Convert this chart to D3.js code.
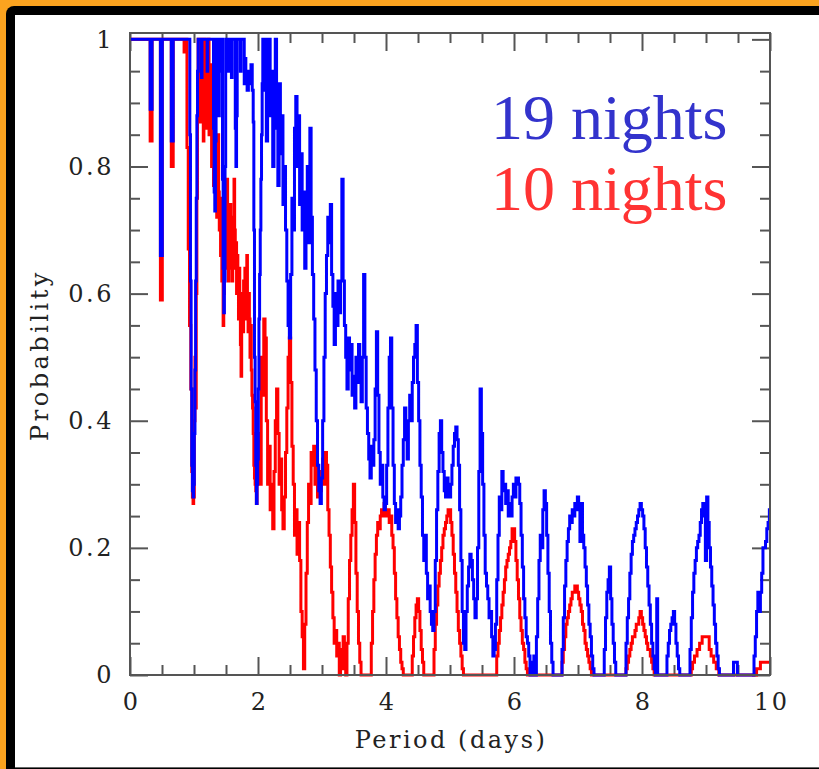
<!DOCTYPE html>
<html>
<head>
<meta charset="utf-8">
<script src="https://cdn.jsdelivr.net/npm/d3@7"></script>
<style>
  body { margin: 0; background: #fba31f; }
  svg { display: block; }
</style>
</head>
<body>
<svg id="chart" width="819" height="769"></svg>
<script>
// probability vs period: [period (days), probability]
var nights19 = [
  [0.00,1],[0.31,1],[0.32,0.89],[0.34,0.89],[0.35,1],
  [0.47,1],[0.48,0.66],[0.50,0.66],[0.51,1],
  [0.64,1],[0.65,0.84],[0.67,0.84],[0.68,1],
  [0.93,1],[0.94,0.85],[0.95,0.62],[0.96,0.45],[0.97,0.33],[0.98,0.29],[0.99,0.28],[1.00,0.30],
  [1.01,0.38],[1.02,0.48],[1.03,0.62],[1.04,0.75],[1.05,0.88],[1.06,0.95],[1.07,1],
  [1.11,1],[1.12,0.94],[1.13,1],[1.20,1],[1.21,0.95],[1.22,1],
  [1.30,1],[1.31,0.86],[1.32,0.76],[1.33,0.73],[1.34,0.84],[1.35,1],
  [1.38,1],[1.39,0.88],[1.40,0.95],[1.41,1],
  [1.44,1],[1.45,0.78],[1.46,0.64],[1.47,0.57],[1.48,0.62],[1.49,0.80],[1.50,1],
  [1.53,1],[1.54,0.95],[1.55,1],[1.58,1],[1.59,0.94],[1.60,1],
  [1.64,1],[1.65,0.86],[1.66,0.80],[1.67,0.88],[1.68,1],
  [1.72,1],[1.73,0.95],[1.74,1],[1.78,1],[1.79,0.93],[1.80,0.97],[1.82,0.94],[1.84,0.92],
  [1.86,0.95],[1.88,0.93],[1.90,0.96],[1.92,0.92],[1.93,0.87],[1.94,0.70],[1.95,0.50],
  [1.96,0.43],[1.97,0.33],[1.98,0.27],[1.99,0.30],[2.00,0.34],[2.01,0.45],[2.02,0.56],
  [2.03,0.63],[2.04,0.70],[2.05,0.78],[2.06,0.85],[2.07,0.93],[2.08,1],[2.10,0.92],[2.12,1],
  [2.14,0.84],[2.16,0.95],[2.18,1],[2.20,0.88],[2.22,0.95],[2.24,0.80],[2.26,0.90],[2.28,1],
  [2.30,0.86],[2.32,0.77],[2.34,0.93],[2.36,0.82],[2.38,0.88],[2.40,0.74],[2.42,0.80],
  [2.44,0.70],[2.46,0.62],[2.48,0.55],[2.50,0.53],[2.52,0.63],[2.54,0.75],[2.56,0.70],
  [2.58,0.86],[2.60,0.91],[2.62,0.80],[2.64,0.88],[2.66,0.74],[2.68,0.82],[2.70,0.70],
  [2.72,0.76],[2.74,0.64],[2.76,0.72],[2.78,0.80],[2.80,0.68],[2.82,0.86],[2.84,0.72],
  [2.86,0.63],[2.88,0.56],[2.90,0.48],[2.92,0.40],[2.94,0.33],[2.96,0.29],[2.98,0.27],
  [3.00,0.31],[3.02,0.40],[3.04,0.50],[3.06,0.60],[3.08,0.66],[3.10,0.72],[3.12,0.68],
  [3.14,0.74],[3.16,0.63],[3.18,0.58],[3.20,0.52],[3.22,0.60],[3.24,0.55],[3.26,0.62],
  [3.28,0.57],[3.30,0.62],[3.32,0.78],[3.34,0.62],[3.36,0.55],[3.38,0.50],[3.40,0.45],
  [3.42,0.53],[3.44,0.48],[3.46,0.52],[3.48,0.44],[3.50,0.47],[3.52,0.42],[3.54,0.50],
  [3.56,0.46],[3.58,0.52],[3.60,0.47],[3.62,0.43],[3.64,0.50],[3.66,0.63],[3.68,0.50],
  [3.70,0.42],[3.72,0.38],[3.74,0.34],[3.76,0.31],[3.78,0.36],[3.80,0.33],[3.82,0.37],
  [3.84,0.45],[3.86,0.54],[3.88,0.44],[3.90,0.35],[3.92,0.30],[3.94,0.33],[3.96,0.28],
  [3.98,0.26],[4.00,0.27],[4.02,0.33],[4.04,0.42],[4.06,0.50],[4.08,0.53],[4.10,0.42],
  [4.12,0.33],[4.14,0.27],[4.16,0.24],[4.18,0.26],[4.20,0.23],[4.22,0.25],[4.24,0.28],
  [4.26,0.33],[4.28,0.37],[4.30,0.42],[4.32,0.38],[4.34,0.34],[4.36,0.40],[4.38,0.44],
  [4.40,0.40],[4.42,0.46],[4.44,0.50],[4.46,0.52],[4.48,0.55],[4.50,0.46],[4.52,0.40],
  [4.54,0.33],[4.56,0.28],[4.58,0.22],[4.60,0.18],[4.62,0.22],[4.64,0.16],[4.66,0.12],
  [4.68,0.14],[4.70,0.10],[4.72,0.08],[4.74,0.07],[4.76,0.10],[4.78,0.18],[4.80,0.26],
  [4.82,0.32],[4.84,0.38],[4.86,0.40],[4.88,0.35],[4.90,0.32],[4.92,0.29],[4.94,0.28],
  [4.96,0.31],[4.98,0.30],[5.00,0.28],[5.02,0.30],[5.04,0.33],[5.06,0.36],[5.08,0.38],
  [5.10,0.39],[5.12,0.37],[5.14,0.33],[5.16,0.26],[5.18,0.18],[5.20,0.10],[5.22,0.05],
  [5.24,0.04],[5.26,0.10],[5.28,0.14],[5.30,0.17],[5.32,0.19],[5.34,0.18],[5.36,0.15],
  [5.38,0.12],[5.40,0.09],[5.42,0.12],[5.44,0.20],[5.46,0.32],[5.48,0.45],[5.50,0.38],
  [5.52,0.30],[5.54,0.22],[5.56,0.16],[5.58,0.14],[5.60,0.12],[5.62,0.09],[5.64,0.10],
  [5.66,0.06],[5.68,0.03],[5.70,0.04],[5.72,0.08],[5.74,0.15],[5.76,0.22],[5.78,0.28],
  [5.80,0.26],[5.82,0.32],[5.84,0.29],[5.86,0.30],[5.88,0.27],[5.90,0.29],[5.92,0.25],
  [5.94,0.27],[5.96,0.25],[5.98,0.28],[6.00,0.30],[6.02,0.28],[6.04,0.31],[6.06,0.31],
  [6.08,0.30],[6.10,0.27],[6.12,0.22],[6.14,0.17],[6.16,0.12],[6.18,0.09],[6.20,0.06],
  [6.22,0.05],[6.24,0.03],[6.26,0],[6.28,0.02],[6.30,0],[6.32,0.03],[6.34,0],[6.36,0.06],
  [6.38,0.12],[6.40,0.18],[6.42,0.22],[6.44,0.20],[6.46,0.26],[6.48,0.29],[6.50,0.27],
  [6.52,0.22],[6.54,0.16],[6.56,0.10],[6.58,0.05],[6.60,0.02],[6.62,0],[6.74,0],
  [6.76,0.04],[6.78,0.09],[6.80,0.14],[6.82,0.18],[6.84,0.21],[6.86,0.23],[6.88,0.25],
  [6.90,0.24],[6.92,0.26],[6.94,0.25],[6.96,0.27],[6.98,0.26],[7.00,0.28],[7.02,0.27],
  [7.04,0.21],[7.06,0.27],[7.08,0.22],[7.10,0.20],[7.12,0.17],[7.14,0.14],[7.16,0.11],
  [7.18,0.08],[7.20,0.06],[7.22,0.03],[7.24,0.01],[7.26,0],[7.40,0],[7.42,0.04],
  [7.44,0.09],[7.46,0.13],[7.48,0.15],[7.50,0.17],[7.52,0.12],[7.54,0.08],[7.56,0.05],
  [7.58,0.02],[7.60,0],[7.74,0],[7.76,0.05],[7.78,0.09],[7.80,0.12],[7.82,0.16],
  [7.84,0.19],[7.86,0.21],[7.88,0.22],[7.90,0.23],[7.92,0.24],[7.94,0.25],[7.96,0.26],
  [7.98,0.27],[8.00,0.26],[8.02,0.25],[8.04,0.23],[8.06,0.20],[8.08,0.17],[8.10,0.14],
  [8.12,0.11],[8.14,0.08],[8.16,0.05],[8.18,0.03],[8.20,0.01],[8.22,0],[8.24,0.12],
  [8.25,0],[8.38,0],[8.40,0.03],[8.42,0.05],[8.44,0.07],[8.46,0.08],[8.48,0.09],
  [8.50,0.10],[8.52,0.08],[8.54,0.05],[8.56,0.03],[8.58,0.01],[8.60,0],[8.74,0],
  [8.76,0.04],[8.78,0.09],[8.80,0.13],[8.82,0.16],[8.84,0.18],[8.86,0.20],[8.88,0.21],
  [8.90,0.22],[8.92,0.24],[8.94,0.26],[8.96,0.27],[8.98,0.25],[9.00,0.18],[9.02,0.28],
  [9.04,0.24],[9.06,0.20],[9.08,0.17],[9.10,0.14],[9.12,0.11],[9.14,0.08],[9.16,0.05],
  [9.18,0.03],[9.20,0.01],[9.22,0],[9.42,0],[9.44,0.02],[9.48,0.02],[9.50,0],[9.74,0],
  [9.76,0.03],[9.78,0.06],[9.80,0.10],[9.82,0.13],[9.84,0.10],[9.86,0.13],[9.88,0.16],
  [9.90,0.20],[9.92,0.20],[9.94,0.21],[9.96,0.23],[9.98,0.24],[10.00,0.26]
];

var nights10 = [
  [0.00,1],[0.31,1],[0.32,0.84],[0.34,0.84],[0.35,1],
  [0.47,1],[0.48,0.59],[0.50,0.59],[0.51,1],
  [0.64,1],[0.65,0.80],[0.67,0.80],[0.68,1],
  [0.84,1],[0.85,0.98],[0.87,0.98],[0.88,1],
  [0.90,0.83],[0.92,0.67],[0.94,0.55],[0.96,0.45],[0.97,0.32],[0.98,0.28],[0.99,0.27],
  [1.00,0.28],[1.01,0.40],[1.02,0.50],[1.03,0.42],[1.04,0.60],[1.05,0.75],[1.06,0.88],
  [1.07,1],[1.08,0.93],[1.09,1],[1.10,0.87],[1.11,0.95],[1.12,1],[1.13,0.90],[1.14,0.96],
  [1.15,0.84],[1.16,0.92],[1.17,1],[1.18,0.88],[1.19,0.94],[1.20,0.86],[1.21,0.97],
  [1.22,0.90],[1.23,1],[1.24,0.85],[1.25,0.92],[1.26,0.96],[1.27,0.86],[1.28,0.80],
  [1.29,0.91],[1.30,0.84],[1.31,0.77],[1.32,0.82],[1.33,0.88],[1.34,0.74],[1.35,0.80],
  [1.36,0.72],[1.37,0.78],[1.38,0.85],[1.39,0.76],[1.40,0.70],[1.41,0.75],[1.42,0.66],
  [1.43,0.72],[1.44,0.62],[1.45,0.68],[1.46,0.55],[1.47,0.60],[1.48,0.70],[1.49,0.64],
  [1.50,0.74],[1.51,0.66],[1.52,0.78],[1.53,0.70],[1.54,0.62],[1.55,0.72],[1.56,0.66],
  [1.57,0.74],[1.58,0.64],[1.59,0.70],[1.60,0.62],[1.61,0.68],[1.62,0.72],[1.63,0.78],
  [1.64,0.70],[1.65,0.64],[1.66,0.68],[1.67,0.60],[1.68,0.66],[1.69,0.62],[1.70,0.56],
  [1.71,0.64],[1.72,0.58],[1.73,0.52],[1.74,0.47],[1.75,0.55],[1.76,0.60],[1.77,0.54],
  [1.78,0.62],[1.79,0.58],[1.80,0.64],[1.81,0.56],[1.82,0.62],[1.83,0.66],[1.84,0.58],
  [1.85,0.54],[1.86,0.60],[1.87,0.56],[1.88,0.50],[1.89,0.55],[1.90,0.48],[1.91,0.44],
  [1.92,0.42],[1.93,0.38],[1.94,0.33],[1.95,0.31],[1.96,0.30],[1.97,0.29],[1.98,0.27],
  [1.99,0.30],[2.00,0.33],[2.02,0.38],[2.04,0.30],[2.06,0.50],[2.08,0.44],[2.10,0.56],
  [2.12,0.53],[2.14,0.40],[2.16,0.30],[2.18,0.36],[2.20,0.26],[2.22,0.30],[2.24,0.23],
  [2.26,0.32],[2.28,0.40],[2.30,0.45],[2.32,0.38],[2.34,0.30],[2.36,0.34],[2.38,0.26],
  [2.40,0.23],[2.42,0.28],[2.44,0.35],[2.46,0.42],[2.48,0.50],[2.50,0.53],[2.52,0.46],
  [2.54,0.36],[2.56,0.30],[2.58,0.22],[2.60,0.26],[2.62,0.19],[2.64,0.24],[2.66,0.18],
  [2.68,0.10],[2.70,0.06],[2.72,0.01],[2.74,0.08],[2.76,0.16],[2.78,0.24],[2.80,0.30],
  [2.82,0.27],[2.84,0.35],[2.86,0.33],[2.88,0.36],[2.90,0.30],[2.92,0.33],[2.94,0.28],
  [2.96,0.31],[2.98,0.29],[3.00,0.32],[3.02,0.34],[3.04,0.30],[3.06,0.35],[3.08,0.33],
  [3.10,0.26],[3.12,0.22],[3.14,0.17],[3.16,0.13],[3.18,0.09],[3.20,0.05],[3.22,0.07],
  [3.24,0.03],[3.26,0.05],[3.28,0],[3.30,0.04],[3.32,0.01],[3.34,0.06],[3.36,0.02],
  [3.38,0],[3.40,0.05],[3.42,0.12],[3.44,0.18],[3.46,0.22],[3.48,0.26],[3.50,0.30],
  [3.52,0.24],[3.54,0.16],[3.56,0.10],[3.58,0.05],[3.60,0.02],[3.62,0],[3.76,0],
  [3.78,0.05],[3.80,0.10],[3.82,0.15],[3.84,0.19],[3.86,0.22],[3.88,0.24],[3.90,0.23],
  [3.92,0.25],[3.94,0.26],[3.96,0.25],[3.98,0.27],[4.00,0.26],[4.02,0.25],[4.04,0.26],
  [4.06,0.24],[4.08,0.25],[4.10,0.22],[4.12,0.20],[4.14,0.16],[4.16,0.12],[4.18,0.09],
  [4.20,0.06],[4.22,0.04],[4.24,0.02],[4.26,0.01],[4.28,0],[4.40,0],[4.42,0.03],
  [4.44,0.06],[4.46,0.09],[4.48,0.11],[4.50,0.12],[4.52,0.10],[4.54,0.07],[4.56,0.04],
  [4.58,0.02],[4.60,0],[4.74,0],[4.76,0.04],[4.78,0.08],[4.80,0.11],[4.82,0.14],
  [4.84,0.16],[4.86,0.18],[4.88,0.20],[4.90,0.22],[4.92,0.23],[4.94,0.24],[4.96,0.25],
  [4.98,0.26],[5.00,0.26],[5.02,0.24],[5.04,0.22],[5.06,0.19],[5.08,0.16],[5.10,0.13],
  [5.12,0.10],[5.14,0.07],[5.16,0.05],[5.18,0.03],[5.20,0.01],[5.22,0],[5.72,0],
  [5.74,0.03],[5.76,0.05],[5.78,0.07],[5.80,0.09],[5.82,0.11],[5.84,0.13],[5.86,0.15],
  [5.88,0.17],[5.90,0.18],[5.92,0.19],[5.94,0.20],[5.96,0.21],[5.98,0.23],[6.00,0.23],
  [6.02,0.21],[6.04,0.18],[6.06,0.15],[6.08,0.12],[6.10,0.09],[6.12,0.07],[6.14,0.05],
  [6.16,0.04],[6.18,0.02],[6.20,0.01],[6.22,0],[6.74,0],[6.76,0.02],[6.78,0.04],
  [6.80,0.06],[6.82,0.08],[6.84,0.09],[6.86,0.10],[6.88,0.11],[6.90,0.12],[6.92,0.13],
  [6.94,0.13],[6.96,0.14],[6.98,0.14],[7.00,0.13],[7.02,0.12],[7.04,0.11],[7.06,0.10],
  [7.08,0.08],[7.10,0.07],[7.12,0.05],[7.14,0.04],[7.16,0.03],[7.18,0.02],[7.20,0.01],
  [7.22,0],[7.74,0],[7.76,0.01],[7.78,0.02],[7.80,0.03],[7.82,0.04],[7.84,0.05],
  [7.86,0.06],[7.88,0.06],[7.90,0.07],[7.92,0.08],[7.94,0.08],[7.96,0.09],[7.98,0.10],
  [8.00,0.09],[8.02,0.08],[8.04,0.07],[8.06,0.06],[8.08,0.05],[8.10,0.04],[8.12,0.04],
  [8.14,0.03],[8.16,0.02],[8.18,0.01],[8.20,0],[8.76,0],[8.78,0.01],[8.80,0.02],
  [8.84,0.03],[8.88,0.04],[8.92,0.05],[8.96,0.06],[9.04,0.06],[9.06,0.04],[9.10,0.03],
  [9.14,0.02],[9.18,0.01],[9.22,0],[9.78,0],[9.80,0.01],[9.90,0.02],[10.00,0.02]
];

var xTickLabels = ["0", "2", "4", "6", "8", "10"],
  yTickLabels = ["0", "0.2", "0.4", "0.6", "0.8", "1"],
  xMajor = [0, 2, 4, 6, 8, 10],
  yMajor = [0, 0.2, 0.4, 0.6, 0.8, 1];

var legend = [
  {label: "19 nights", color: "#3333cc"},
  {label: "10 nights", color: "#ff3333"}
];

var axisColor = "#555",
  axisFont = "'DejaVu Serif', serif",
  textColor = "#222";

var svg = d3.select("#chart");

// orange frame / black band / white panel
svg.append("rect").attr("width", 819).attr("height", 769).attr("fill", "#fba31f");
svg.append("rect").attr("x", 6).attr("y", 6).attr("width", 900).attr("height", 900)
  .attr("rx", 8).attr("fill", "#000");
svg.append("rect").attr("x", 15).attr("y", 15).attr("width", 900).attr("height", 753)
  .attr("fill", "#fff");
svg.append("line").attr("x1", 15).attr("x2", 819).attr("y1", 767.5).attr("y2", 767.5)
  .attr("stroke", "#666").attr("stroke-width", 1);

var x = d3.scaleLinear().domain([0, 10]).range([130, 770]),
  y = d3.scaleLinear().domain([0, 1.01]).range([675, 33]);

var xMinor = d3.range(0, 10.01, 0.5).filter(function(d) { return xMajor.indexOf(d) < 0; }),
  yMinor = d3.range(0, 1.001, 0.05).map(function(d) { return +d.toFixed(2); })
    .filter(function(d) { return yMajor.indexOf(d) < 0; });

function ticks(axis, transform, values, size, labels, pad) {
  axis.tickValues(values).tickSizeInner(-size).tickSizeOuter(0).tickPadding(pad || 3)
    .tickFormat(labels ? function(d, i) { return labels[i]; } : "");
  var g = svg.append("g").attr("transform", transform).call(axis);
  g.select(".domain").remove();
  g.selectAll("line").attr("stroke", axisColor).attr("stroke-width", 2);
  g.attr("font-family", axisFont).attr("font-size", 24);
  g.selectAll("text").attr("fill", textColor).attr("letter-spacing", 2.5);
  return g;
}

// inward ticks on all four sides
ticks(d3.axisBottom(x), "translate(0,675)", xMajor, 18, xTickLabels, 18)
  .selectAll("text").attr("dx", 1.2);
ticks(d3.axisBottom(x), "translate(0,675)", xMinor, 10);
ticks(d3.axisTop(x), "translate(0,33)", xMajor, 18);
ticks(d3.axisTop(x), "translate(0,33)", xMinor, 10);
ticks(d3.axisLeft(y), "translate(130,0)", yMajor, 18, yTickLabels, 16);
ticks(d3.axisLeft(y), "translate(130,0)", yMinor, 10);
ticks(d3.axisRight(y), "translate(770,0)", yMajor, 18);
ticks(d3.axisRight(y), "translate(770,0)", yMinor, 10);

svg.append("clipPath").attr("id", "plot").append("rect")
  .attr("x", 130).attr("y", 30).attr("width", 640).attr("height", 650);

var line = d3.line()
  .x(function(d) { return x(d[0]); })
  .y(function(d) { return y(d[1]); })
  .curve(d3.curveStep);

svg.append("path").datum(nights10)
  .attr("d", line).attr("fill", "none").attr("stroke", "#ff0000")
  .attr("stroke-width", 3).attr("clip-path", "url(#plot)");
svg.append("path").datum(nights19)
  .attr("d", line).attr("fill", "none").attr("stroke", "#0000ff")
  .attr("stroke-width", 3).attr("clip-path", "url(#plot)");

// frame
svg.append("rect").attr("x", 130).attr("y", 33).attr("width", 640).attr("height", 642)
  .attr("fill", "none").attr("stroke", axisColor).attr("stroke-width", 2);

// axis titles
svg.append("text").attr("x", 451).attr("y", 748).attr("text-anchor", "middle")
  .attr("font-family", axisFont).attr("font-size", 24).attr("letter-spacing", 2.5)
  .attr("fill", textColor).text("Period (days)");
svg.append("text").attr("transform", "translate(48,355) rotate(-90)")
  .attr("text-anchor", "middle").attr("font-family", axisFont).attr("font-size", 24)
  .attr("letter-spacing", 3.5).attr("fill", textColor).text("Probability");

// labels of the two curves
svg.selectAll(".legend").data(legend).enter().append("text")
  .attr("class", "legend")
  .attr("x", 491)
  .attr("y", function(d, i) { return 139 + i * 71; })
  .attr("font-family", "'Liberation Serif', 'Times New Roman', serif")
  .attr("font-size", 64)
  .attr("fill", function(d) { return d.color; })
  .text(function(d) { return d.label; });
</script>
</body>
</html>
